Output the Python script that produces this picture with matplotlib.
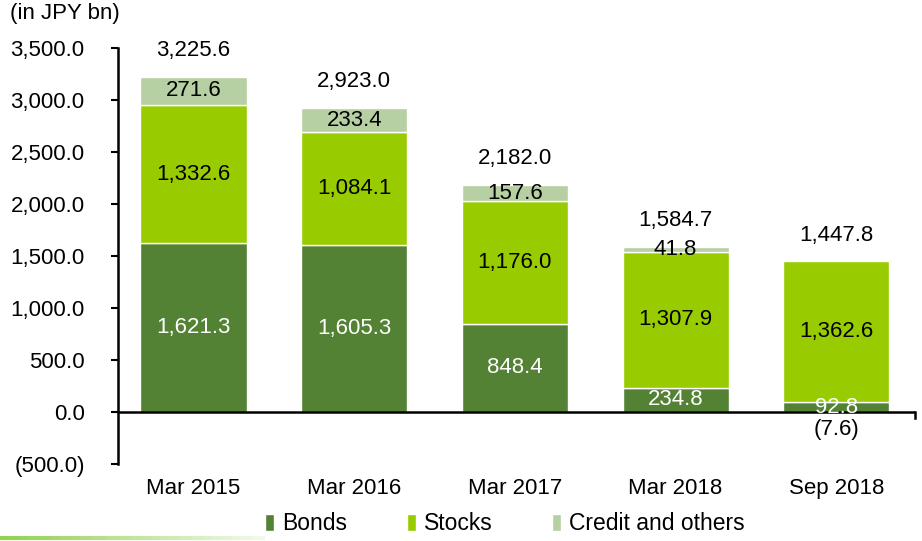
import matplotlib.pyplot as plt
import numpy as np

plt.rcParams['font.family'] = ['Liberation Sans', 'DejaVu Sans']

categories = ['Mar 2015', 'Mar 2016', 'Mar 2017', 'Mar 2018', 'Sep 2018']
bonds = [1621.3, 1605.3, 848.4, 234.8, 92.8]
stocks = [1332.6, 1084.1, 1176.0, 1307.9, 1362.6]
credit = [271.6, 233.4, 157.6, 41.8, -7.6]
totals = [3225.6, 2923.0, 2182.0, 1584.7, 1447.8]
y_ticks = np.arange(-500, 3501, 500)

c_bonds = '#548235'
c_stocks = '#99cc00'
c_credit = '#b6cfa3'
fs = 16


def fmt(v):
    if v < 0:
        return '({:,.1f})'.format(-v)
    return '{:,.1f}'.format(v)


fig = plt.figure(figsize=(9.22, 5.41), dpi=100)
ax = fig.add_axes([118/922, 1-464/541, (915-118)/922, (464-48)/541])

x = np.arange(len(categories))
w = 0.66
ax.bar(x, bonds, w, color=c_bonds, edgecolor='white', linewidth=1, label='Bonds', zorder=2)
bot = np.array(bonds)
ax.bar(x, stocks, w, bottom=bot, color=c_stocks, edgecolor='white', linewidth=1, label='Stocks', zorder=2)
bot2 = bot + np.array(stocks)
cred_bottom = [b if c >= 0 else 0 for b, c in zip(bot2, credit)]
ax.bar(x, credit, w, bottom=cred_bottom, color=c_credit, edgecolor='white', linewidth=1,
       label='Credit and others', zorder=2)

for i in range(len(categories)):
    ax.text(x[i], bonds[i]/2, fmt(bonds[i]), ha='center', va='center', color='white', fontsize=fs, zorder=4)
    ax.text(x[i], bot[i] + stocks[i]/2, fmt(stocks[i]), ha='center', va='center', color='black', fontsize=fs, zorder=4)
    if credit[i] >= 0:
        ax.text(x[i], bot2[i] + credit[i]/2, fmt(credit[i]), ha='center', va='center', color='black', fontsize=fs, zorder=4)
    else:
        ax.text(x[i], -170, fmt(credit[i]), ha='center', va='center', color='black', fontsize=fs, zorder=4)
    top = max(bot2[i] + credit[i], totals[i])
    ax.annotate(fmt(totals[i]), (x[i], top), xytext=(0, 19), textcoords='offset points',
                ha='center', va='center', fontsize=fs)

ax.set_xlim(-0.47, 4.49)
ax.set_ylim(-500, 3500)
ax.set_yticks(y_ticks)
ax.set_yticklabels([fmt(v) for v in y_ticks], fontsize=fs)
ax.set_xticks(x)
ax.set_xticklabels(categories, fontsize=fs)
ax.tick_params(axis='x', length=0, pad=10)
ax.tick_params(axis='y', length=5, width=1.5, direction='out', pad=19)
for s in ['top', 'right', 'bottom']:
    ax.spines[s].set_visible(False)
ax.spines['left'].set_linewidth(1.8)
ax.axhline(0, color='black', linewidth=1.8, zorder=3)
ax.plot([4.49, 4.49], [0, -60], color='black', linewidth=1.8, clip_on=False, zorder=3)

fig.text(10/922, 1-14/541, '(in JPY bn)', fontsize=fs, va='center', ha='left')

ax.legend(loc='center', bbox_to_anchor=(505/922, 1-524/541), bbox_transform=fig.transFigure,
          ncol=3, frameon=False, fontsize=16.5, handlelength=0.4, handleheight=0.8,
          handletextpad=0.35, columnspacing=2.6)

# faded green line at the bottom edge
n = 40
xs = np.linspace(0, 265/922, n + 1)
for k in range(n):
    a = 0.9 * (1 - k / n) + 0.1
    fig.add_artist(plt.Line2D([xs[k], xs[k+1]], [1-538/541]*2, color='#92d050', alpha=a,
                              linewidth=3, transform=fig.transFigure, solid_capstyle='butt'))

fig.savefig('out.png', dpi=100)
